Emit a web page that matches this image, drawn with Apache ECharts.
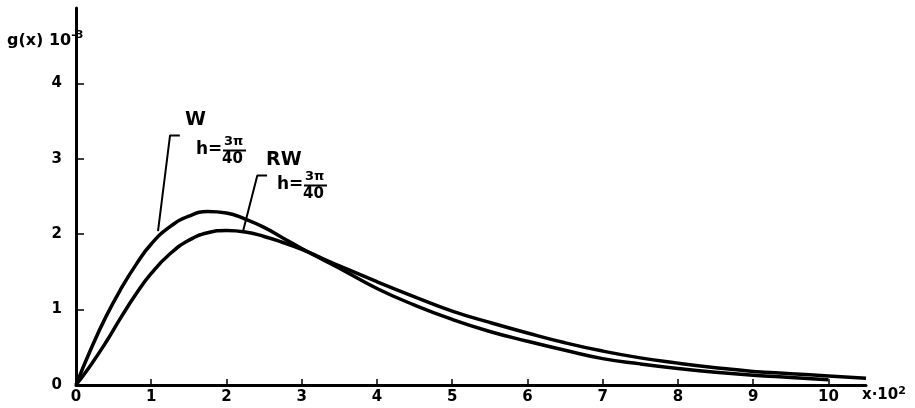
<!DOCTYPE html>
<html>
<head>
<meta charset="utf-8">
<script src="https://cdn.jsdelivr.net/npm/echarts@6/dist/echarts.min.js"></script>
<style>
  html, body { margin: 0; padding: 0; background: #fff; }
  #main { width: 915px; height: 408px; }
</style>
</head>
<body>
<div id="main"></div>
<script>
// x in units of 10^2, g(x) in units of 10^-3
var xW = [0, 0.2, 0.4, 0.6, 0.8, 1.0, 1.25, 1.5, 1.75, 2.0, 2.25, 2.5, 2.75, 3.0, 3.25, 3.5, 4.0, 4.5, 5.0, 5.5, 6.0, 6.5, 7.0, 7.5, 8.0, 8.5, 9.0, 9.5, 10.0];
var wVals = [0, 0.48, 0.91, 1.28, 1.60, 1.87, 2.10, 2.24, 2.30, 2.28, 2.20, 2.09, 1.95, 1.81, 1.68, 1.55, 1.28, 1.06, 0.87, 0.71, 0.58, 0.46, 0.35, 0.28, 0.22, 0.17, 0.13, 0.10, 0.07];

var xRW = [0, 0.2, 0.4, 0.6, 0.8, 1.0, 1.25, 1.5, 1.75, 2.0, 2.25, 2.5, 2.75, 3.0, 3.25, 3.5, 4.0, 4.5, 5.0, 5.5, 6.0, 6.5, 7.0, 7.5, 8.0, 8.5, 9.0, 9.5, 10.0, 10.5];
var rwVals = [0, 0.27, 0.57, 0.90, 1.21, 1.48, 1.74, 1.92, 2.02, 2.05, 2.03, 1.97, 1.89, 1.80, 1.69, 1.58, 1.37, 1.17, 0.98, 0.83, 0.69, 0.56, 0.45, 0.36, 0.29, 0.23, 0.18, 0.15, 0.12, 0.09];

// leader lines from the labels to the curves
var wLeader = [[1.38, 3.31], [1.25, 3.31], [1.09, 2.04]];
var rwLeader = [[2.54, 2.78], [2.41, 2.78], [2.22, 2.04]];

var xTicks = [0, 1, 2, 3, 4, 5, 6, 7, 8, 9, 10];
var yTicks = [0, 1, 2, 3, 4];

var FONT = 'DejaVu Sans';

function pairs(xs, ys) {
  return xs.map(function (x, i) { return [x, ys[i]]; });
}

var chart = echarts.init(document.getElementById('main'));

// fraction label "h = 3π/40"
function hLabel(x, y) {
  return [
    { type: 'text', left: x, top: y + 4, style: { text: 'h=', font: 'bold 17px ' + FONT, fill: '#000' } },
    { type: 'text', left: x + 28, top: y - 2, style: { text: '3π', font: 'bold 13px ' + FONT, fill: '#000' } },
    { type: 'line', shape: { x1: x + 27, y1: y + 13.5, x2: x + 50, y2: y + 13.5 }, style: { stroke: '#000', lineWidth: 2 } },
    { type: 'text', left: x + 26, top: y + 15, style: { text: '40', font: 'bold 15px ' + FONT, fill: '#000' } }
  ];
}

var graphics = [
  { type: 'text', left: 7, top: 30, style: {
      rich: {
        a: { font: 'bold 16px ' + FONT, fill: '#000' },
        s: { font: 'bold 11px ' + FONT, fill: '#000', verticalAlign: 'top', padding: [0, 0, 10, 0] }
      },
      text: '{a|g(x) 10}{s|-3}'
  } },
  { type: 'text', left: 862, top: 386, style: {
      rich: {
        a: { font: 'bold 15px ' + FONT, fill: '#000' },
        s: { font: 'bold 11px ' + FONT, fill: '#000', padding: [0, 0, 8, 0] }
      },
      text: '{a|x·10}{s|2}'
  } },
  { type: 'text', left: 185, top: 111, style: { text: 'W', font: 'bold 19px ' + FONT, fill: '#000' } },
  { type: 'text', left: 266, top: 151, style: { text: 'RW', font: 'bold 19px ' + FONT, fill: '#000' } }
].concat(hLabel(196, 137)).concat(hLabel(277, 172));

var option = {
  animation: false,
  backgroundColor: '#fff',
  grid: { left: 76, right: 49, top: 8, bottom: 23, outerBoundsMode: 'none' },
  xAxis: {
    type: 'value',
    min: 0,
    max: 10.5,
    interval: 1,
    splitLine: { show: false },
    axisLine: { show: true, onZero: false, lineStyle: { color: '#000', width: 3 } },
    axisTick: { show: true, inside: true, length: 6, customValues: xTicks, lineStyle: { color: '#000', width: 1.5 } },
    axisLabel: { show: true, customValues: xTicks, margin: 5, color: '#000', fontFamily: FONT, fontWeight: 'bold', fontSize: 15 }
  },
  yAxis: {
    type: 'value',
    min: 0,
    max: 5,
    interval: 1,
    splitLine: { show: false },
    axisLine: { show: true, onZero: false, lineStyle: { color: '#000', width: 3 } },
    axisTick: { show: true, inside: true, length: 8, customValues: yTicks, lineStyle: { color: '#000', width: 1.5 } },
    axisLabel: { show: true, customValues: yTicks, margin: 14, color: '#000', fontFamily: FONT, fontWeight: 'bold', fontSize: 15 }
  },
  series: [
    {
      name: 'W',
      type: 'line',
      smooth: 0.5,
      symbol: 'none',
      data: pairs(xW, wVals),
      lineStyle: { color: '#000', width: 3.5 }
    },
    {
      name: 'RW',
      type: 'line',
      smooth: 0.5,
      symbol: 'none',
      data: pairs(xRW, rwVals),
      lineStyle: { color: '#000', width: 3.5 }
    },
    {
      name: 'W leader',
      type: 'line',
      symbol: 'none',
      data: wLeader,
      lineStyle: { color: '#000', width: 2 }
    },
    {
      name: 'RW leader',
      type: 'line',
      symbol: 'none',
      data: rwLeader,
      lineStyle: { color: '#000', width: 2 }
    }
  ],
  graphic: graphics
};

chart.setOption(option);
</script>
</body>
</html>
